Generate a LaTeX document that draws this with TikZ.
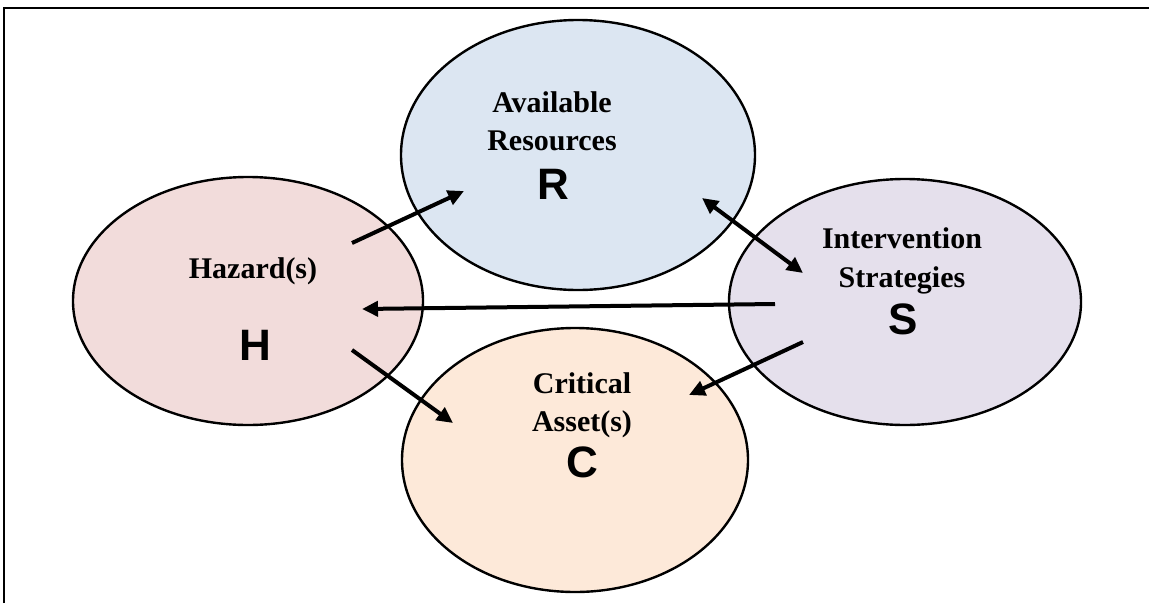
\documentclass[tikz,border=0pt]{standalone}
\usepackage{fontspec}
\setmainfont{Liberation Serif}
\newfontfamily\letterfont{Liberation Sans}
\usetikzlibrary{arrows.meta,calc,shapes.geometric}
\definecolor{resfill}{HTML}{DCE6F2}
\definecolor{hazfill}{HTML}{F2DCDB}
\definecolor{strfill}{HTML}{E5E0EC}
\definecolor{assfill}{HTML}{FDE9D9}
\tikzset{
  blob/.style={ellipse, draw=black, line width=2.4pt, inner sep=0pt},
  caption/.style={font=\fontsize{30}{36}\selectfont\bfseries, inner sep=0pt, anchor=base},
  letter/.style={font=\fontsize{44}{50}\selectfont\letterfont\bfseries, inner sep=0pt, anchor=base},
  head/.style={Triangle[length=16pt,width=15pt]},
  link/.style={line width=4pt, -{Triangle[length=16pt,width=15pt]}},
  duallink/.style={line width=4pt, {Triangle[length=16pt,width=15pt]}-{Triangle[length=16pt,width=15pt]}}
}
\begin{document}
\begin{tikzpicture}[x=1pt,y=-1pt]
\useasboundingbox (0,0) rectangle (1149,603);
% frame
\draw[line width=2pt] (3.5,603) -- (3.5,7.5) -- (1149,7.5);

% the four elements
\node[blob, fill=resfill, minimum width=354pt, minimum height=270pt] (R) at (578,155) {};
\node[blob, fill=hazfill, minimum width=350pt, minimum height=248pt] (H) at (248,301) {};
\node[blob, fill=strfill, minimum width=352pt, minimum height=246pt] (S) at (905,302) {};
\node[blob, fill=assfill, minimum width=346pt, minimum height=264pt] (C) at (575,460) {};

% labels
\node[caption] (Rt1) at (552,112) {Available};
\node[caption] (Rt2) at (552,150) {Resources};
\node[letter]  (Rl)  at (553,199) {R};

\node[caption] (Ht1) at (253,278) {Hazard(s)};
\node[letter]  (Hl)  at (255,360) {H};

\node[caption] (St1) at (902,248) {Intervention};
\node[caption] (St2) at (902,287) {Strategies};
\node[letter]  (Sl)  at (903,334) {S};

\node[caption] (Ct1) at (582,393) {Critical};
\node[caption] (Ct2) at (582,431) {Asset(s)};
\node[letter]  (Cl)  at (582,477) {C};

% arrow ends
\coordinate (hr0) at ($(H.center)+(104,-58)$);
\coordinate (hr1) at ($(R.center)+(-114,36)$);
\coordinate (rs0) at ($(R.center)+(124,43)$);
\coordinate (rs1) at ($(S.center)+(-102,-29)$);
\coordinate (sh0) at ($(S.center)+(-130,2)$);
\coordinate (sh1) at ($(H.center)+(114,8)$);
\coordinate (hc0) at ($(H.center)+(104,49)$);
\coordinate (hc1) at ($(C.center)+(-122,-37)$);
\coordinate (sc0) at ($(S.center)+(-102,40)$);
\coordinate (sc1) at ($(C.center)+(114,-65)$);

% relations
\draw[link] (hr0) -- (hr1);
\draw[duallink] (rs0) -- (rs1);
\draw[link] (sh0) -- (sh1);
\draw[link] (hc0) -- (hc1);
\draw[link] (sc0) -- (sc1);
\end{tikzpicture}
\end{document}
